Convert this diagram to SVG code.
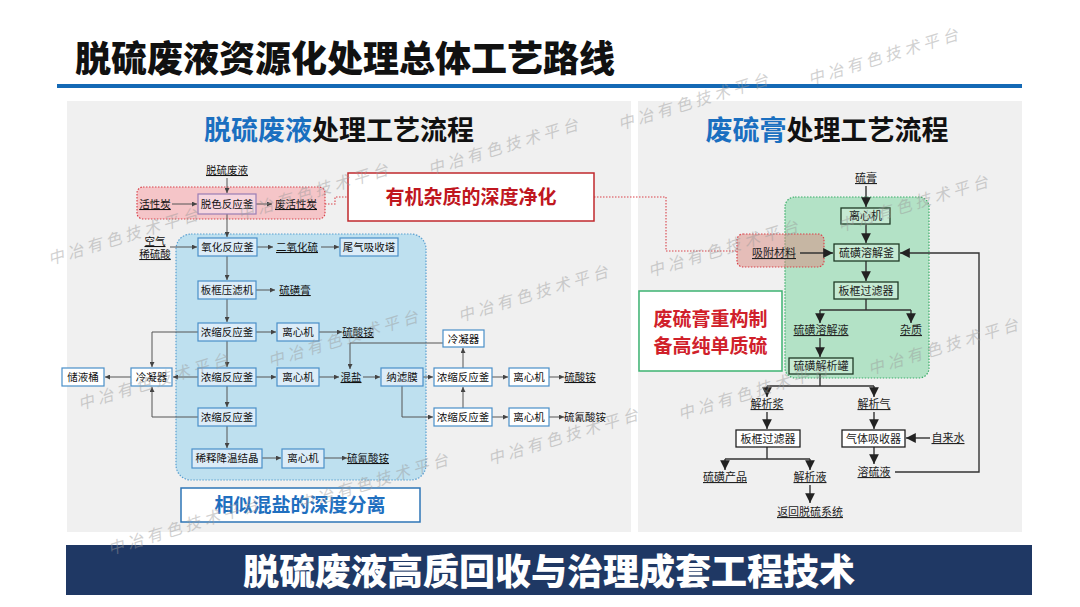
<svg xmlns="http://www.w3.org/2000/svg" width="1080" height="607" viewBox="0 0 1080 607">
<defs>
<style>
text{font-family:"Noto Sans CJK SC","Noto Sans",sans-serif;}
.t{font-size:10.5px;fill:#111;text-anchor:middle;}
.u{text-decoration:underline;}
.r{font-size:11px;fill:#222;text-anchor:middle;}
.bx{fill:#dcecf8;stroke:#4a8fc9;stroke-width:1.2;}
.bw{fill:#fff;stroke:#4a8fc9;stroke-width:1.2;}
.gb{fill:#c6ead3;stroke:#1f3a26;stroke-width:1.3;}
.gw{fill:#fff;stroke:#222;stroke-width:1.3;}
.c{fill:none;stroke:#555;stroke-width:1;}
.d{fill:none;stroke:#d9434b;stroke-width:1.1;stroke-dasharray:1.5,1.5;}
.cr{fill:none;stroke:#333;stroke-width:1.4;}
.wm{font-size:16px;fill:#9a9a9a;opacity:0.45;letter-spacing:4px;font-style:italic;}
</style>
<marker id="a" viewBox="0 0 6 6" refX="6" refY="3" markerWidth="5" markerHeight="5" orient="auto"><path d="M0,0L6,3L0,6z" fill="#444"/></marker>
<marker id="b" viewBox="0 0 8 8" refX="8" refY="4" markerWidth="7" markerHeight="7" orient="auto"><path d="M0,0L8,4L0,8z" fill="#222"/></marker>
</defs>
<rect width="1080" height="607" fill="#fff"/>
<text x="75" y="72" style="font-size:36px;font-weight:900;fill:#111;">脱硫废液资源化处理总体工艺路线</text>
<rect x="57" y="84" width="965" height="4" fill="#1469b5"/>
<rect x="67" y="101" width="564" height="431" fill="#f0f0f0"/>
<rect x="638" y="101" width="384" height="431" fill="#f0f0f0"/>
<text x="339" y="140" style="font-size:27px;font-weight:700;text-anchor:middle;"><tspan fill="#1a6fc0">脱硫废液</tspan><tspan fill="#111">处理工艺流程</tspan></text>
<text x="827" y="140" style="font-size:27px;font-weight:700;text-anchor:middle;"><tspan fill="#1a6fc0">废硫膏</tspan><tspan fill="#111">处理工艺流程</tspan></text>

<g id="regions">
<rect x="137" y="187" width="188" height="32" rx="6" fill="#f5c5c8" stroke="#d9434b" stroke-width="1.2" stroke-dasharray="1.5,1.5"/>
<rect x="176" y="234" width="250" height="246" rx="15" fill="#bee0ef" stroke="#5a9fd0" stroke-width="1.2" stroke-dasharray="1.5,1.5"/>
<rect x="785" y="197" width="144" height="181" rx="10" fill="#b3e2c6" stroke="#3cae6a" stroke-width="1.2" stroke-dasharray="1.5,1.5"/>
<rect x="737" y="234" width="87" height="33" rx="6" fill="#d98a80" fill-opacity="0.5" stroke="#d9434b" stroke-width="1.2" stroke-dasharray="1.5,1.5"/>
</g>

<g id="connectors">
<polyline class="d" points="325,204 335,204 335,197 348,197"/>
<polyline class="d" points="594,197 666,197 666,251 737,251"/>
<path class="c" marker-end="url(#a)" d="M227,178V193"/>
<path class="c" marker-end="url(#a)" d="M172,204H197"/>
<path class="c" marker-end="url(#a)" d="M256,204H272"/>
<path class="c" marker-end="url(#a)" d="M227,214V237"/>
<path class="c" marker-end="url(#a)" d="M170,247H197"/>
<path class="c" marker-end="url(#a)" d="M257,247H273"/>
<path class="c" marker-end="url(#a)" d="M321,247H339"/>
<path class="c" marker-end="url(#a)" d="M227,256V280"/>
<path class="c" marker-end="url(#a)" d="M256,290H275"/>
<path class="c" marker-end="url(#a)" d="M227,299V322"/>
<path class="c" marker-end="url(#a)" d="M256,332H276"/>
<path class="c" marker-end="url(#a)" d="M319,332H342"/>
<path class="c" marker-end="url(#a)" d="M227,341V367"/>
<path class="c" marker-end="url(#a)" d="M256,377H276"/>
<path class="c" marker-end="url(#a)" d="M319,377H339"/>
<path class="c" marker-end="url(#a)" d="M363,377H380"/>
<path class="c" marker-end="url(#a)" d="M423,377H433"/>
<path class="c" marker-end="url(#a)" d="M443,343H350V369"/>
<path class="c" marker-end="url(#a)" d="M463,368V348"/>
<path class="c" marker-end="url(#a)" d="M492,377H508"/>
<path class="c" marker-end="url(#a)" d="M549,377H564"/>
<path class="c" marker-end="url(#a)" d="M463,408V387"/>
<path class="c" marker-end="url(#a)" d="M492,417H508"/>
<path class="c" marker-end="url(#a)" d="M549,417H564"/>
<path class="c" marker-end="url(#a)" d="M402,386V417H433"/>
<path class="c" marker-end="url(#a)" d="M131,377H105"/>
<path class="c" marker-end="url(#a)" d="M198,377H173"/>
<path class="c" marker-end="url(#a)" d="M198,332H152V367"/>
<path class="c" marker-end="url(#a)" d="M198,417H152V387"/>
<path class="c" marker-end="url(#a)" d="M227,386V407"/>
<path class="c" marker-end="url(#a)" d="M227,426V448"/>
<path class="c" marker-end="url(#a)" d="M262,458H281"/>
<path class="c" marker-end="url(#a)" d="M324,458H347"/>

<path class="cr" marker-end="url(#b)" d="M866,186V207"/>
<path class="cr" marker-end="url(#b)" d="M866,224V243"/>
<path class="cr" marker-end="url(#b)" d="M800,253H833"/>
<path class="cr" marker-end="url(#b)" d="M895,472H979V253H900"/>
<path class="cr" marker-end="url(#b)" d="M866,261V281"/>
<path class="cr" d="M866,299V310M820,310H911"/>
<path class="cr" marker-end="url(#b)" d="M820,310V323"/>
<path class="cr" marker-end="url(#b)" d="M911,310V323"/>
<path class="cr" marker-end="url(#b)" d="M820,338V357"/>
<path class="cr" d="M820,374V386M767,386H874"/>
<path class="cr" marker-end="url(#b)" d="M767,386V397"/>
<path class="cr" marker-end="url(#b)" d="M874,386V397"/>
<path class="cr" marker-end="url(#b)" d="M767,412V429"/>
<path class="cr" d="M767,447V459M725,459H810"/>
<path class="cr" marker-end="url(#b)" d="M725,459V470"/>
<path class="cr" marker-end="url(#b)" d="M810,459V470"/>
<path class="cr" marker-end="url(#b)" d="M810,485V503"/>
<path class="cr" marker-end="url(#b)" d="M874,412V429"/>
<path class="cr" marker-end="url(#b)" d="M930,438H906"/>
<path class="cr" marker-end="url(#b)" d="M874,447V464"/>
</g>

<g id="labels-left">
<text class="t u" x="227" y="174">脱硫废液</text>
<text class="t u" x="155" y="208">活性炭</text>
<text class="t u" x="296" y="208">废活性炭</text>
<text class="t u" x="155" y="245">空气</text>
<text class="t u" x="155" y="258">稀硫酸</text>
<text class="t u" x="297" y="251">二氧化硫</text>
<text class="t u" x="295" y="294">硫磺膏</text>
<text class="t u" x="358" y="336">硫酸铵</text>
<text class="t u" x="351" y="381">混盐</text>
<text class="t u" x="580" y="381">硫酸铵</text>
<text class="t" x="585" y="421">硫氰酸铵</text>
<text class="t u" x="368" y="462">硫氰酸铵</text>
</g>

<g id="n-tuose"><rect x="198" y="194" width="58" height="20" fill="#f6d6df" stroke="#9a7db5" stroke-width="1.2"/><text class="t" x="227" y="208">脱色反应釜</text></g>
<g id="n-yanghua"><rect class="bx" x="198" y="238" width="59" height="18"/><text class="t" x="227.5" y="251">氧化反应釜</text></g>
<g id="n-weiqi"><rect class="bx" x="340" y="238" width="58" height="18"/><text class="t" x="369" y="251">尾气吸收塔</text></g>
<g id="n-bankuang"><rect class="bx" x="198" y="281" width="58" height="18"/><text class="t" x="227" y="294">板框压滤机</text></g>
<g id="n-nongsuo1"><rect class="bx" x="198" y="323" width="58" height="18"/><text class="t" x="227" y="336">浓缩反应釜</text></g>
<g id="n-lixin1"><rect class="bx" x="277" y="323" width="42" height="18"/><text class="t" x="298" y="336">离心机</text></g>
<g id="n-nongsuo2"><rect class="bx" x="198" y="368" width="58" height="18"/><text class="t" x="227" y="381">浓缩反应釜</text></g>
<g id="n-lixin2"><rect class="bx" x="277" y="368" width="42" height="18"/><text class="t" x="298" y="381">离心机</text></g>
<g id="n-nalv"><rect class="bx" x="381" y="368" width="42" height="18"/><text class="t" x="402" y="381">纳滤膜</text></g>
<g id="n-nongsuo3"><rect class="bx" x="198" y="408" width="58" height="18"/><text class="t" x="227" y="421">浓缩反应釜</text></g>
<g id="n-xishi"><rect class="bx" x="192" y="449" width="70" height="19"/><text class="t" x="227" y="462">稀释降温结晶</text></g>
<g id="n-lixin3"><rect class="bx" x="282" y="449" width="42" height="19"/><text class="t" x="303" y="462">离心机</text></g>
<g id="n-lengning1"><rect class="bw" x="131" y="368" width="41" height="18"/><text class="t" x="151.5" y="381">冷凝器</text></g>
<g id="n-chuye"><rect class="bw" x="62" y="368" width="42" height="18"/><text class="t" x="83" y="381">储液桶</text></g>
<g id="n-lengning2"><rect class="bw" x="443" y="330" width="41" height="17"/><text class="t" x="463.5" y="342.5">冷凝器</text></g>
<g id="n-nongsuo4"><rect class="bw" x="434" y="368" width="58" height="18"/><text class="t" x="463" y="381">浓缩反应釜</text></g>
<g id="n-lixin4"><rect class="bw" x="509" y="368" width="40" height="18"/><text class="t" x="529" y="381">离心机</text></g>
<g id="n-nongsuo5"><rect class="bw" x="434" y="408" width="58" height="18"/><text class="t" x="463" y="421">浓缩反应釜</text></g>
<g id="n-lixin5"><rect class="bw" x="509" y="408" width="40" height="18"/><text class="t" x="529" y="421">离心机</text></g>

<g id="n-youji"><rect x="348" y="173" width="246" height="48" fill="#fff" stroke="#c0282d" stroke-width="1.5"/><text x="471" y="204" style="font-size:19px;font-weight:700;fill:#c0161e;text-anchor:middle;">有机杂质的深度净化</text></g>
<g id="n-xiangsi"><rect x="181" y="488" width="239" height="34" fill="#fff" stroke="#2e75b6" stroke-width="1.5"/><text x="300" y="512" style="font-size:19px;font-weight:700;fill:#1f6fbf;text-anchor:middle;">相似混盐的深度分离</text></g>
<g id="n-feiliugao"><rect x="639" y="291" width="143" height="80" fill="#fff" stroke="#3cb371" stroke-width="1.5"/><text x="710.5" y="326" style="font-size:19px;font-weight:700;fill:#d0202a;text-anchor:middle;">废硫膏重构制</text><text x="710.5" y="353" style="font-size:19px;font-weight:700;fill:#d0202a;text-anchor:middle;">备高纯单质硫</text></g>

<g id="labels-right">
<text class="r u" x="866" y="182">硫膏</text>
<text class="r u" x="774" y="257">吸附材料</text>
<text class="r u" x="821" y="334">硫磺溶解液</text>
<text class="r u" x="911" y="334">杂质</text>
<text class="r u" x="767" y="408">解析浆</text>
<text class="r u" x="874" y="408">解析气</text>
<text class="r u" x="948" y="442">自来水</text>
<text class="r u" x="725" y="481">硫磺产品</text>
<text class="r u" x="810" y="481">解析液</text>
<text class="r u" x="810" y="516">返回脱硫系统</text>
<text class="r u" x="874" y="476">溶硫液</text>
</g>
<g id="n-r-lixin"><rect class="gb" x="841" y="208" width="49" height="16"/><text class="r" x="865.5" y="220">离心机</text></g>
<g id="n-r-rongjie"><rect class="gb" x="834" y="244" width="65" height="17"/><text class="r" x="866.5" y="257">硫磺溶解釜</text></g>
<g id="n-r-bankuang1"><rect class="gb" x="834" y="282" width="64" height="17"/><text class="r" x="866" y="295">板框过滤器</text></g>
<g id="n-r-jiexiguan"><rect class="gb" x="789" y="358" width="64" height="16"/><text class="r" x="821" y="370">硫磺解析罐</text></g>
<g id="n-r-bankuang2"><rect class="gw" x="736" y="430" width="64" height="17"/><text class="r" x="768" y="443">板框过滤器</text></g>
<g id="n-r-xishou"><rect class="gw" x="842" y="430" width="63" height="17"/><text class="r" x="873.5" y="443">气体吸收器</text></g>

<rect x="66" y="545" width="966" height="50" fill="#1f3864"/>
<text x="549" y="585" style="font-size:36px;font-weight:900;fill:#fff;text-anchor:middle;">脱硫废液高质回收与治理成套工程技术</text>

<g id="watermarks">
<text class="wm" transform="translate(50,265) rotate(-17)">中冶有色技术平台</text>
<text class="wm" transform="translate(240,220) rotate(-17)">中冶有色技术平台</text>
<text class="wm" transform="translate(430,175) rotate(-17)">中冶有色技术平台</text>
<text class="wm" transform="translate(620,130) rotate(-17)">中冶有色技术平台</text>
<text class="wm" transform="translate(810,85) rotate(-17)">中冶有色技术平台</text>
<text class="wm" transform="translate(80,410) rotate(-17)">中冶有色技术平台</text>
<text class="wm" transform="translate(270,367) rotate(-17)">中冶有色技术平台</text>
<text class="wm" transform="translate(460,322) rotate(-17)">中冶有色技术平台</text>
<text class="wm" transform="translate(650,277) rotate(-17)">中冶有色技术平台</text>
<text class="wm" transform="translate(840,232) rotate(-17)">中冶有色技术平台</text>
<text class="wm" transform="translate(110,555) rotate(-17)">中冶有色技术平台</text>
<text class="wm" transform="translate(300,510) rotate(-17)">中冶有色技术平台</text>
<text class="wm" transform="translate(490,465) rotate(-17)">中冶有色技术平台</text>
<text class="wm" transform="translate(680,420) rotate(-17)">中冶有色技术平台</text>
<text class="wm" transform="translate(870,375) rotate(-17)">中冶有色技术平台</text>
</g>
</svg>
